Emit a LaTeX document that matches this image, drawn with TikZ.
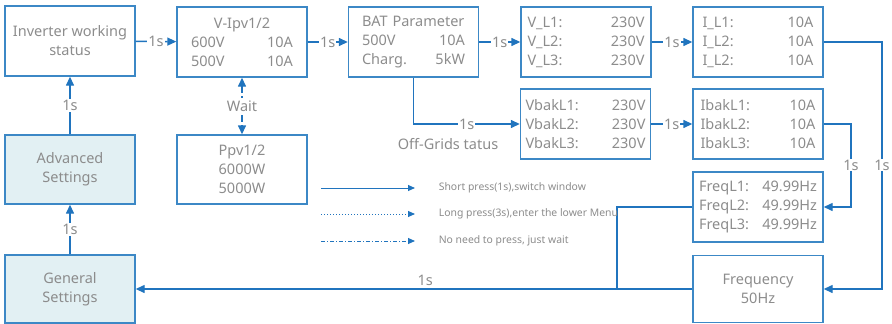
\documentclass[tikz,border=0pt]{standalone}
\usepackage{fontspec}
\setmainfont{Noto Sans}
\usetikzlibrary{arrows.meta}
\definecolor{lineblue}{RGB}{32,116,190}
\definecolor{boxblue}{RGB}{60,136,198}
\definecolor{txtgray}{RGB}{140,140,140}
\definecolor{setfill}{RGB}{226,240,243}

\begin{document}
\begin{tikzpicture}[x=1pt,y=-1pt,
  box/.style={draw=boxblue,line width=1.4pt,text=txtgray,inner sep=0pt,
    minimum width=130pt,minimum height=70pt,font=\fontsize{14.5}{19}\selectfont},
  setbox/.style={box,fill=setfill},
  flow/.style={draw=lineblue,line width=1.4pt,-{Triangle[length=9pt,width=8pt]}},
  lbl/.style={fill=white,text=txtgray,inner sep=1pt,font=\fontsize{14.5}{17}\selectfont},
  legtxt/.style={text=txtgray,anchor=west,font=\fontsize{10.4}{12}\selectfont},
  legline/.style={draw=lineblue,line width=1pt,-{Triangle[length=7pt,width=6pt]}}]
\useasboundingbox (0,0) rectangle (892,324);
\node[box,align=center] (inv) at (70,41) {Inverter working\\status};
\node[box,align=center,text width=102pt] (vipv) at (242,42) {V-Ipv1/2\\600V\hfill 10A\\500V\hfill 10A};
\node[box,align=left,text width=103pt] (bat) at (413.5,42) {BAT Parameter\\500V\hfill 10A\\Charg.\hfill 5kW};
\node[box,align=left,text width=117pt] (vl) at (586,42) {V\_L1:\hfill 230V\\V\_L2:\hfill 230V\\V\_L3:\hfill 230V};
\node[box,align=left,text width=111pt] (il) at (758,42) {I\_L1:\hfill 10A\\I\_L2:\hfill 10A\\I\_L2:\hfill 10A};
\node[box,align=left,text width=120pt] (vbak) at (585.5,124) {VbakL1:\hfill 230V\\VbakL2:\hfill 230V\\VbakL3:\hfill 230V};
\node[box,align=left,text width=115pt] (ibak) at (758,124) {IbakL1:\hfill 10A\\IbakL2:\hfill 10A\\IbakL3:\hfill 10A};
\node[box,align=left,text width=118pt] (freql) at (758,207) {FreqL1:\hfill 49.99Hz\\FreqL2:\hfill 49.99Hz\\FreqL3:\hfill 49.99Hz};
\node[box,align=center,minimum height=67pt] (freq) at (758,289) {Frequency\\50Hz};
\node[setbox,align=center,minimum height=68pt] (gen) at (70,289) {General\\Settings};
\node[setbox,align=center,minimum height=69pt] (adv) at (70,169.5) {Advanced\\Settings};
\node[box,align=center,minimum height=69pt] (ppv) at (242,169.5) {Ppv1/2\\6000W\\5000W};
% top row
\draw[flow] (inv) -- node[lbl]{1s} (vipv);
\draw[flow] (vipv) -- node[lbl]{1s} (bat);
\draw[flow] (bat) -- node[lbl]{1s} (vl);
\draw[flow] (vl) -- node[lbl]{1s} (il);
% settings column
\draw[flow] (adv) -- node[lbl]{1s} (inv);
\draw[flow] (gen) -- node[lbl]{1s} (adv);
\draw[flow,{Triangle[length=9pt,width=8pt]}-{Triangle[length=9pt,width=8pt]},
  dash pattern=on 7pt off 3pt on 1.5pt off 3pt] (vipv) -- node[lbl]{Wait} (ppv);
% off-grid branch
\draw[flow] (bat.south) |- node[lbl,pos=0.75]{1s} (vbak.west);
\node[text=txtgray,font=\fontsize{14.5}{17}\selectfont] (offg) at (448,144) {Off-Grids tatus};
\draw[flow] (vbak) -- node[lbl]{1s} (ibak);
\draw[flow] (ibak.east) -| (851,165) node[lbl]{1s} |- (freql.east);
\draw[flow] (il.east) -| (882,165) node[lbl]{1s} |- (freq.east);
% back to general settings
\coordinate (jn) at (617,290);
\draw[draw=lineblue,line width=1.4pt] (freql.west) -| (jn);
\draw[flow] (freq.west) -- node[lbl,above=2pt,fill=none,pos=0.48]{1s} (gen.east);
% legend
\coordinate (la) at (321,188);
\coordinate (lb) at (415,188);
\draw[legline] (la) -- (lb) node[legtxt,right=20pt] {Short press(1s),switch window};
\coordinate (lc) at (321,214);
\coordinate (ld) at (415,214);
\draw[legline,dotted] (lc) -- (ld) node[legtxt,right=20pt] {Long press(3s),enter the lower Menu};
\coordinate (le) at (321,241);
\coordinate (lf) at (415,241);
\draw[legline,dash pattern=on 4pt off 2pt on 1pt off 2pt] (le) -- (lf) node[legtxt,right=20pt] {No need to press, just wait};
\end{tikzpicture}
\end{document}
